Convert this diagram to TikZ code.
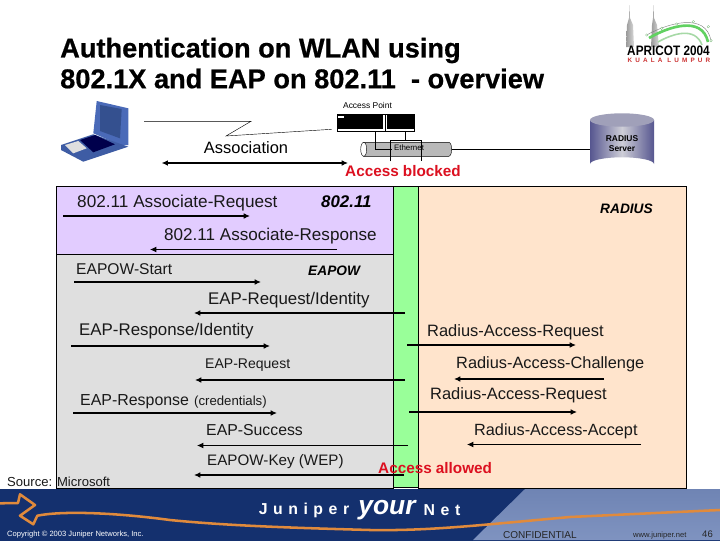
\documentclass[tikz,border=0pt]{standalone}
\usepackage{fontspec}
\setmainfont{Liberation Sans}
\usetikzlibrary{arrows.meta}
\definecolor{lanpurple}{HTML}{E2CCFF}
\definecolor{eapgrey}{HTML}{DFDFDF}
\definecolor{portgreen}{HTML}{99FF99}
\definecolor{radbeige}{HTML}{FFE4CC}
\definecolor{alertred}{HTML}{DC1020}
\definecolor{navytop}{HTML}{14306E}
\definecolor{navymid}{HTML}{2A58A8}
\definecolor{skyband}{HTML}{7F93C0}
\definecolor{ropeorange}{HTML}{E08A3C}
\definecolor{lidblue}{HTML}{4A6AB8}
\definecolor{screenblue}{HTML}{34508F}
\definecolor{baseblue}{HTML}{3E5CA4}
\tikzset{
  msg/.style={anchor=west,inner sep=0pt,text=black!90,font=\fontsize{#1}{#1}\selectfont},
  msg/.default=15.5,
  proto/.style={anchor=west,inner sep=0pt,font=\fontsize{#1}{#1}\selectfont\bfseries\itshape},
  proto/.default=13,
  alert/.style={anchor=west,inner sep=0pt,text=alertred,font=\fontsize{14.5}{14.5}\selectfont\bfseries},
  heading/.style={anchor=west,inner sep=0pt,font=\fontsize{25.8}{25.8}\selectfont\bfseries\addfontfeature{FakeBold=0.6}},
  footer/.style={inner sep=0pt,font=\fontsize{7.2}{7.2}\selectfont},
  brand/.style={inner sep=0pt,text=white,font=\fontsize{15}{15}\selectfont\bfseries\addfontfeature{LetterSpace=35}},
  msgline/.style={-{Latex[length=6pt,width=5.5pt]},line width=1.4pt},
  thinline/.style={-{Latex[length=6pt,width=5.5pt]},line width=0.8pt},
}
\begin{document}
\begin{tikzpicture}[x=1cm/30,y=-1cm/30]
\useasboundingbox (0,0) rectangle (720,540);
\fill[white] (0,0) rectangle (720,540);

% title
\node[heading] (titleone) at (60,50.5) {Authentication on WLAN using};
\node[heading] (titletwo) at (60,78.5) {802.1X and EAP on 802.11 \ - overview};

% logo
\shade[left color=gray!80,right color=gray!30] (626,47) -- (627,25) -- (629,18) -- (629.5,5) -- (630,18) -- (633,25) -- (634,47) -- cycle;
\shade[left color=gray!80,right color=gray!30] (651,47) -- (652,25) -- (653,18) -- (653.5,5) -- (654,18) -- (657,25) -- (659,47) -- cycle;
\draw[green!55!gray!80,line width=2.5pt] (649,38) .. controls (668,27) and (702,15) .. (708,42);
\draw[green!40!gray!50,line width=1.5pt] (658,42) .. controls (672,34) and (695,26) .. (702,45);
\draw[gray,thin] (646.7,35) .. controls (668,23) and (706,12) .. (711,40.7);
\foreach \cx/\cy in {646.7/35,661.7/28.3,676.7/24,693.3/21.7,708.3/26.7,711/40.7}{
  \draw[gray!70!green,fill=white,very thin] (\cx,\cy) circle[radius=1.3];
}
\node[inner sep=0pt,xscale=0.86,font=\fontsize{13}{13}\selectfont\bfseries] (logotext) at (668.5,50.5) {APRICOT 2004};
\node[inner sep=0pt,text=red!60!gray,font=\fontsize{6}{6}\selectfont\bfseries\addfontfeature{LetterSpace=50}] (logocity) at (669,60.5) {KUALA LUMPUR};

% laptop
\fill[lidblue] (96.7,101) -- (128.3,108.3) -- (128.3,145) -- (120.7,145) -- (93.3,133.3) -- cycle;
\fill[screenblue] (100,105) -- (121.7,109) -- (120,138.3) -- (100,131) -- cycle;
\fill[baseblue] (61,145) -- (93.3,134.3) -- (128.3,146.7) -- (83.3,161.7) -- (61,150) -- cycle;
\fill[black!70!blue] (80,140) -- (95,135) -- (115,144.3) -- (93.3,152.3) -- cycle;
\fill[gray!25] (65,145) -- (78.3,141) -- (86.7,148.3) -- (73.3,153.3) -- cycle;

% wireless link
\coordinate (linkstart) at (144,121.3);
\coordinate (linkend) at (331.5,129.3);
\draw[thin] (linkstart) -- (251,121.3) -- (226,136) -- (linkend);
\node[inner sep=0pt,font=\fontsize{15.6}{15.6}\selectfont] (assoc) at (246,147.5) {Association};
\coordinate (assocl) at (161.6,163);
\coordinate (assocr) at (348,163);
\draw[{Latex[length=6pt,width=5.5pt]}-{Latex[length=6pt,width=5.5pt]},line width=1.4pt] (assocl) -- (assocr);

% access point
\node[inner sep=0pt,font=\fontsize{8}{8}\selectfont] (aplabel) at (367.5,105) {Access Point};
\draw[fill=black,thin] (337,114.7) rectangle (414,131.3);
\fill[white] (337.5,128.6) rectangle (413.5,130.6);
\fill[white] (382.7,114.7) rectangle (387.3,131.3);
\draw[thin] (385,114.7) -- (385,131.3);
\fill[white] (338,115.5) rectangle (344,117.5);

% ethernet
\draw[fill=gray!55,thin] (363.7,142.3) -- (448.7,142.3) arc[start angle=-90,end angle=90,x radius=3,y radius=7] -- (363.7,156.3) -- cycle;
\draw[fill=white,thin] (363.7,149.3) ellipse[x radius=3,y radius=7];
\coordinate (ethright) at (451.7,149.3);
\node[inner sep=0pt,font=\fontsize{7.5}{7.5}\selectfont] (ethlabel) at (409,147.3) {Ethernet};
\draw[thin] (375,131.3) |- (391.7,149);
\draw[thin] (405.7,131.3) -- (405.7,140.3);
\draw[thin] (390,161.3) -- (390,140.3) -- (421.7,140.3) -- (421.7,161.3);

% radius server
\shade[left color=blue!25!gray!90!black,right color=blue!25!gray!90!black,middle color=blue!10!gray!35] (590,120) -- (590,164) arc[start angle=180,end angle=360,x radius=32,y radius=6.7] -- (654,120) -- cycle;
\fill[blue!15!gray!65] (622,120) ellipse[x radius=32,y radius=6.7];
\node[align=center,inner sep=0pt,minimum width=64cm/30,font=\fontsize{8}{9.5}\selectfont\bfseries] (radius) at (622,143.5) {RADIUS\\Server};
\draw[thin] (ethright) -- (radius.west |- ethright);

\node[alert] (blocked) at (345,171.5) {Access blocked};

% bands
\draw[fill=lanpurple,thin] (56.5,186) rectangle (393,254.7);
\draw[fill=eapgrey,thin] (56.5,254.7) rectangle (393,488);
\draw[fill=radbeige,thin] (418.5,186) rectangle (686.5,488);
\draw[fill=portgreen,thin] (393,186) rectangle (418.5,487);

% message labels
\node[msg=16.3] (assocreq) at (77,203.5) {802.11 Associate-Request};
\node[proto=16] (protolan) at (321,202) {802.11};
\node[proto] (protorad) at (600,209) {RADIUS};
\node[msg=16.2] (assocresp) at (164,236.5) {802.11 Associate-Response};
\node[msg=14.8] (eapolstart) at (76,269) {EAPOW-Start};
\node[proto] (protoeap) at (308,271) {EAPOW};
\node[msg=16] (reqid) at (208,300.5) {EAP-Request/Identity};
\node[msg=16] (respid) at (79,331.5) {EAP-Response/Identity};
\node[msg=13.3] (eapreq) at (205,365) {EAP-Request};
\node[msg=15.1] (eapresp) at (80,401.5) {EAP-Response};
\node[msg=12.5] (cred) at (194,402.5) {(credentials)};
\node[msg=15] (success) at (206,430.5) {EAP-Success};
\node[msg=14.4] (wepkey) at (207,462) {EAPOW-Key (WEP)};
\node[msg=15.6] (radreqa) at (427,332.5) {Radius-Access-Request};
\node[msg=15.5] (radchal) at (456,364.5) {Radius-Access-Challenge};
\node[msg=15.6] (radreqb) at (430,395.5) {Radius-Access-Request};
\node[msg=15.4] (radacc) at (474,431) {Radius-Access-Accept};

% message arrows
\foreach \n/\xa/\xb/\yy in {a/63/250/216,c/74/261/282,d/405/194/313,e/71/270/346,f/405/195/380,g/73/277/413,i/404/194/475,k/407/576/345,l/604/454/379,m/409/577/412}{
  \coordinate (\n s) at (\xa,\yy);
  \coordinate (\n e) at (\xb,\yy);
  \draw[msgline] (\n s) -- (\n e);
}
\foreach \n/\xa/\xb/\yy in {b/337/150/249.5,h/408/197/445.5,n/641/467/444.5}{
  \coordinate (\n s) at (\xa,\yy);
  \coordinate (\n e) at (\xb,\yy);
  \draw[thinline] (\n s) -- (\n e);
}

\node[alert] (allowed) at (378,468) {Access allowed};
\node[msg=12.4] (source) at (7,481.5) {Source: Microsoft};

% footer
\shade[top color=navytop,middle color=navymid,bottom color=navytop] (0,489) rectangle (720,540);
\shade[top color=skyband!85!navytop,bottom color=skyband] (525,489) -- (720,489) -- (720,540) -- (473,540) -- cycle;
\draw[ropeorange,line width=2.4pt,line join=round] (0,503.3) -- (18,503) -- (20,494.3) -- (35,505) -- (20,515.7) -- (33.3,524.3) -- (37.3,515.7) .. controls (60,511) and (110,512) .. (170,520) .. controls (230,526) and (300,528) .. (370,530) .. controls (430,531) and (480,525) .. (570,517) -- (720,510);
\node[brand] (juniper) at (304,510) {Juniper};
\node[inner sep=0pt,text=white,font=\fontsize{25}{25}\selectfont\bfseries\itshape] (yourword) at (387,510) {your};
\node[brand] (netword) at (442,510) {Net};
\node[footer,text=white,anchor=west] (copyright) at (7,535) {Copyright © 2003 Juniper Networks, Inc.};
\node[inner sep=0pt,anchor=west,text=black!85,font=\fontsize{9.5}{9.5}\selectfont] (confid) at (503,535) {CONFIDENTIAL};
\node[footer,text=black!85,anchor=west] (website) at (633,535.5) {www.juniper.net};
\node[inner sep=0pt,anchor=west,text=black!85,font=\fontsize{9}{9}\selectfont] (pagenum) at (702,534) {46};
\end{tikzpicture}
\end{document}
